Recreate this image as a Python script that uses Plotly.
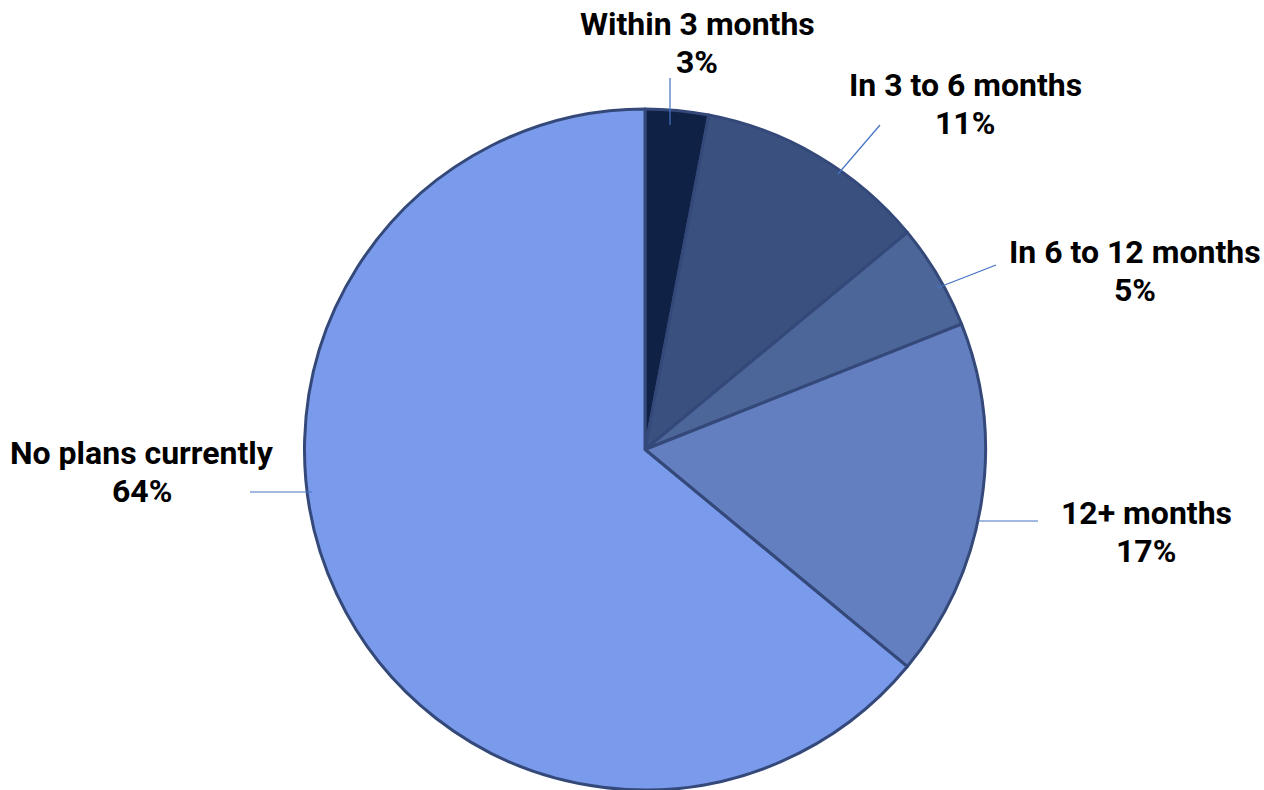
import plotly.graph_objects as go

labels = ["Within 3 months", "In 3 to 6 months", "In 6 to 12 months", "12+ months", "No plans currently"]
values = [3, 11, 5, 17, 64]
colors = ["#0F2145", "#3A5180", "#4D6699", "#637FBF", "#7A9AEB"]

W, H = 1264, 790
CX, CY, R = 645, 450, 341

# label layout (pixel positions): text center, leader line start, leader line end
text_pos = [(697, 43), (965, 104), (1135, 271), (1146, 532), (142, 472)]
lines = [((670, 125), (670, 78)), ((838, 174), (880, 125)), ((937, 288), (996, 265)),
         ((978, 521), (1038, 521)), ((312, 492), (250, 492))]
LINE_GAP = 38

def px(x):
    return x / W

def py(y):
    return 1 - y / H

fig = go.Figure(go.Pie(
    labels=labels, values=values, sort=False, direction="clockwise", rotation=0,
    marker=dict(colors=colors, line=dict(color="#34497A", width=3)),
    textinfo="none", hoverinfo="label+percent", showlegend=False,
    domain=dict(x=[px(CX - R), px(CX + R)], y=[max(0, py(CY + R)), py(CY - R)]),
))

total = sum(values)
font = dict(family="Roboto", size=32, color="#000000", weight="bold")
for lab, v, (tx, ty), ((x0, y0), (x1, y1)) in zip(labels, values, text_pos, lines):
    fig.add_shape(type="line", xref="paper", yref="paper", x0=px(x0), y0=py(y0), x1=px(x1), y1=py(y1),
                  line=dict(color="#4472C4", width=1.2))
    for txt, dy in ((lab, -LINE_GAP / 2), (f"{round(100 * v / total)}%", LINE_GAP / 2)):
        fig.add_annotation(x=px(tx), y=py(ty + dy), xref="paper", yref="paper", showarrow=False,
                           text=txt, align="center", xanchor="center", yanchor="middle", font=font)

fig.update_layout(width=W, height=H, margin=dict(l=0, r=0, t=0, b=0),
                  paper_bgcolor="white", plot_bgcolor="white")
fig.write_html("out.html", config={"displayModeBar": False},
               post_script="document.body.style.margin='0px';document.body.style.overflow='hidden';")
